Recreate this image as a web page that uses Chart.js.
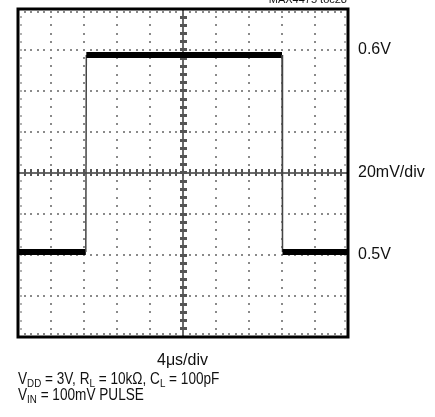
<!DOCTYPE html>
<html>
<head>
    <title>Small-signal pulse response</title>
    <style>
        body { margin: 0; background: #fff; }
        #wrap { position: relative; width: 435px; height: 417px; overflow: hidden; }
        .lbl { position: absolute; font-family: 'Liberation Sans', Arial, sans-serif; color: #111; white-space: nowrap; line-height: 17px; }
        .lbl sub { font-size: 72%; vertical-align: -3px; line-height: 0; }
        .narrow { transform: scaleX(0.85); transform-origin: 0 0; }
    </style>
</head>
<body>
<div id="wrap">
    <canvas id="scope" width="435" height="417"></canvas>
    <div class="lbl" style="right:88px; top:-9px; font-size:11px;">MAX4475 toc28</div>
    <div class="lbl" style="left:157px; top:351px; font-size:16px;">4&mu;s/div</div>
    <div class="lbl narrow" style="left:18px; top:370px; font-size:16px;">V<sub>DD</sub> = 3V, R<sub>L</sub> = 10k&Omega;, C<sub>L</sub> = 100pF</div>
    <div class="lbl narrow" style="left:18px; top:386px; font-size:16px;">V<sub>IN</sub> = 100mV PULSE</div>
</div>

<script src="https://cdn.jsdelivr.net/npm/chart.js"></script>
<script>
// time base (us) and scope window
const xMin = 0, xMax = 40, xStep = 4;
// vertical window (V), 20mV per division
const yMin = 0.46, yMax = 0.62, yStep = 0.02;

// output trace
const timeUs = [0, 8.22, 8.28, 32.0, 32.06, 40];
const outV = [0.5015, 0.5015, 0.5976, 0.5976, 0.5015, 0.5015];

// right-hand level markers
const levelTicks = [0.6, 0.54, 0.5];
const levelLabels = ['0.6V', '20mV/div', '0.5V'];

const FONT = "'Liberation Sans', Arial, sans-serif";

// dotted graticule, centre cross and frame
const graticule = {
    id: 'graticule',
    beforeDatasetsDraw(chart) {
        const { ctx, chartArea: a, scales: { x, y } } = chart;
        const dot = (px, py, w, h) => ctx.fillRect(Math.round(px - w / 2), Math.round(py - h / 2), w, h);
        ctx.save();
        ctx.fillStyle = '#8a8a8a';
        const nx = Math.round((xMax - xMin) / xStep);
        const ny = Math.round((yMax - yMin) / yStep);
        // vertical dotted lines
        for (let i = 1; i < nx; i++) {
            const px = x.getPixelForValue(xMin + i * xStep);
            for (let k = 1; k < ny * 5; k++) {
                dot(px, y.getPixelForValue(yMin + k * yStep / 5), 2, 2);
            }
        }
        // horizontal dotted lines
        for (let j = 1; j < ny; j++) {
            const py = y.getPixelForValue(yMin + j * yStep);
            for (let k = 1; k < nx * 5; k++) {
                dot(x.getPixelForValue(xMin + k * xStep / 5), py, 2, 2);
            }
        }
        // ticks along the frame edges
        for (let k = 1; k < nx * 5; k++) {
            const px = x.getPixelForValue(xMin + k * xStep / 5);
            dot(px, a.top + 3, 2, 2);
            dot(px, a.bottom - 3, 2, 2);
        }
        ctx.fillStyle = '#b0b0b0';
        for (let k = 1; k < ny * 5; k++) {
            const py = y.getPixelForValue(yMin + k * yStep / 5);
            dot(a.left + 3, py, 2, 2);
            dot(a.right - 3, py, 2, 2);
        }
        // centre cross with minor ticks
        const cx = x.getPixelForValue((xMin + xMax) / 2);
        const cy = y.getPixelForValue((yMin + yMax) / 2);
        ctx.fillStyle = '#6a6a6a';
        ctx.fillRect(a.left, Math.round(cy) - 1, a.right - a.left, 2);
        ctx.fillRect(Math.round(cx) - 1, a.top, 2, a.bottom - a.top);
        ctx.fillStyle = '#555';
        for (let k = 1; k < nx * 5; k++) {
            dot(x.getPixelForValue(xMin + k * xStep / 5), cy, 2, 7);
        }
        for (let k = 1; k < ny * 5; k++) {
            dot(cx, y.getPixelForValue(yMin + k * yStep / 5), 7, 3);
        }
        ctx.restore();
    },
    afterDatasetsDraw(chart) {
        const { ctx, chartArea: a } = chart;
        ctx.save();
        ctx.strokeStyle = '#000';
        ctx.lineWidth = 3;
        ctx.strokeRect(a.left, a.top, a.right - a.left, a.bottom - a.top);
        ctx.restore();
    }
};

const ctx = document.getElementById('scope').getContext('2d');
new Chart(ctx, {
    type: 'line',
    data: {
        datasets: [{
            data: timeUs.map((t, i) => ({ x: t, y: outV[i] })),
            borderColor: '#000',
            borderWidth: 6,
            pointRadius: 0,
            tension: 0,
            borderJoinStyle: 'miter',
            segment: {
                // fast edges are thin, flat levels carry the noise band
                borderWidth: c => c.p0.parsed.y === c.p1.parsed.y ? 6 : 1.5,
                borderColor: c => c.p0.parsed.y === c.p1.parsed.y ? '#000' : '#444'
            }
        }]
    },
    options: {
        responsive: false,
        animation: false,
        layout: { padding: { left: 18, top: 9, right: 0, bottom: 80 } },
        plugins: { legend: { display: false }, tooltip: { enabled: false } },
        scales: {
            x: { type: 'linear', min: xMin, max: xMax, display: false },
            y: {
                type: 'linear',
                position: 'right',
                min: yMin,
                max: yMax,
                afterFit: s => {
                    s.width = 87;
                    s.paddingTop = 0;
                    s.paddingBottom = 0;
                },
                afterBuildTicks: s => { s.ticks = levelTicks.map(v => ({ value: v })); },
                grid: { display: false, drawTicks: false },
                border: { display: false },
                ticks: {
                    padding: 10,
                    color: '#111',
                    font: { family: FONT, size: 16 },
                    callback: v => levelLabels[levelTicks.indexOf(v)] || ''
                }
            }
        }
    },
    plugins: [graticule]
});
</script>
</body>
</html>
